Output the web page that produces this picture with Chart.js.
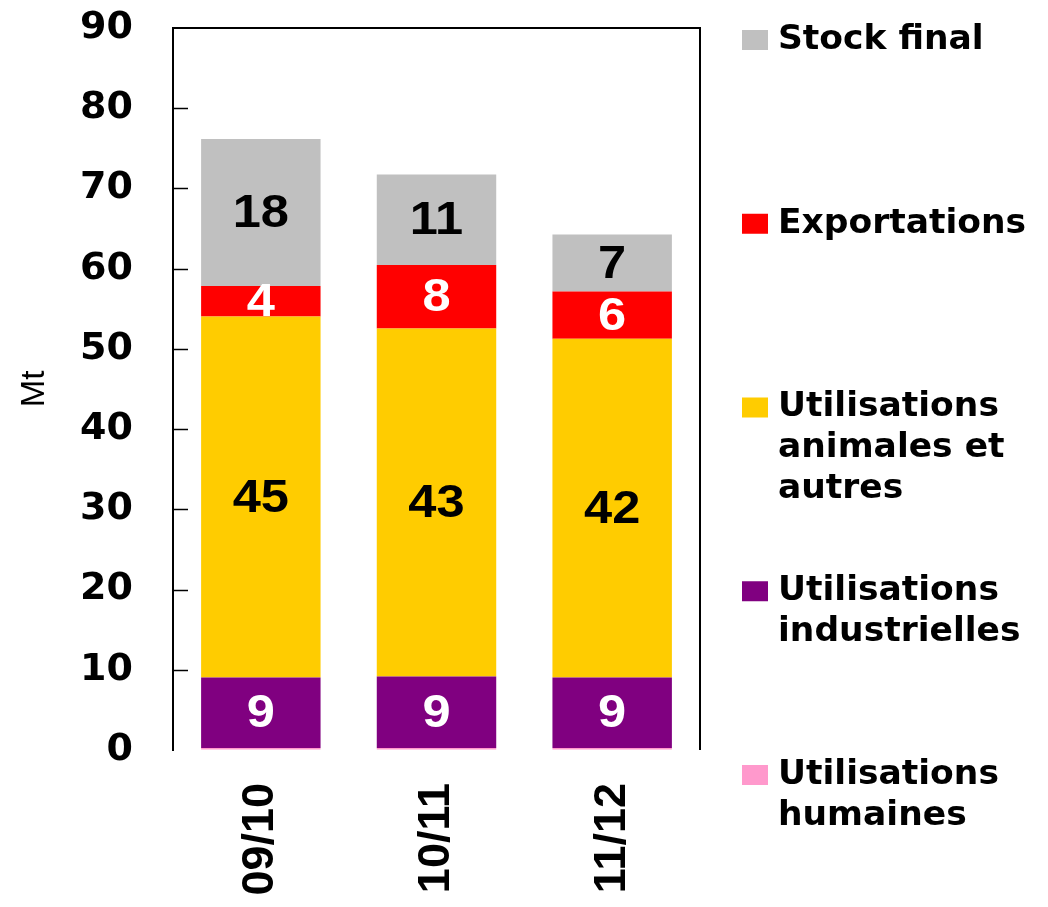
<!DOCTYPE html>
<html>
<head>
<meta charset="utf-8">
<script src="https://cdn.jsdelivr.net/npm/chart.js@4"></script>
<style>
  html, body { margin: 0; padding: 0; background: #fff; }
</style>
</head>
<body>
<canvas id="chart" width="1048" height="907"></canvas>
<script>
// campagnes
const campaigns = ['09/10', '10/11', '11/12'];

// Mt
const humaines = [0.25, 0.25, 0.25];
const industrielles = [8.8, 8.9, 8.8];
const animales = [45.0, 43.4, 42.2];
const exportations = [3.8, 7.9, 5.9];
const stockFinal = [18.3, 11.3, 7.1];

const yMin = 0;
const yMax = 90;
const yStep = 10;

const series = [
    { label: ['Utilisations', 'humaines'], data: humaines, color: '#FF99CC', text: null },
    { label: ['Utilisations', 'industrielles'], data: industrielles, color: '#800080', text: '#fff' },
    { label: ['Utilisations', 'animales et', 'autres'], data: animales, color: '#FFCC00', text: '#000' },
    { label: ['Exportations'], data: exportations, color: '#FF0000', text: '#fff' },
    { label: ['Stock final'], data: stockFinal, color: '#C0C0C0', text: '#000' }
];

const WIDE = "'DejaVu Sans', sans-serif";
const ARIAL = "'Liberation Sans', Arial, sans-serif";

// values in the middle of each segment (slightly widened like the original)
const segmentLabels = {
    id: 'segmentLabels',
    afterDatasetsDraw(chart) {
        const ctx = chart.ctx;
        chart.data.datasets.forEach((ds, i) => {
            if (!ds.textColor) return;
            chart.getDatasetMeta(i).data.forEach((bar, j) => {
                const p = bar.getProps(['x', 'y', 'base'], true);
                ctx.save();
                ctx.translate(p.x, (p.y + p.base) / 2 + 2);
                ctx.scale(1.1, 1);
                ctx.font = 'bold 46px ' + ARIAL;
                ctx.textAlign = 'center';
                ctx.textBaseline = 'middle';
                ctx.fillStyle = ds.textColor;
                ctx.fillText(Math.round(ds.data[j]), 0, 0);
                ctx.restore();
            });
        });
    }
};

// frame on top/right, tick marks pointing inwards
const frame = {
    id: 'frame',
    afterDraw(chart) {
        const ctx = chart.ctx;
        const a = chart.chartArea;
        const y = chart.scales.y;
        ctx.save();
        ctx.strokeStyle = '#000';
        ctx.lineWidth = 2;
        ctx.beginPath();
        ctx.moveTo(a.left, a.top);
        ctx.lineTo(a.right, a.top);
        ctx.lineTo(a.right, a.bottom);
        ctx.stroke();
        ctx.lineWidth = 1.5;
        for (let v = yMin + yStep; v < yMax; v += yStep) {
            const py = Math.round(y.getPixelForValue(v)) + 0.5;
            ctx.beginPath();
            ctx.moveTo(a.left, py);
            ctx.lineTo(a.left + 15, py);
            ctx.stroke();
        }
        ctx.restore();
    }
};

// legend on the right, top series first
const sideLegend = {
    id: 'sideLegend',
    afterDraw(chart) {
        const ctx = chart.ctx;
        const a = chart.chartArea;
        const items = chart.data.datasets.slice().reverse();
        ctx.save();
        ctx.font = 'bold 34.5px ' + WIDE;
        ctx.textBaseline = 'middle';
        ctx.textAlign = 'left';
        items.forEach((ds, i) => {
            const cy = 40 + i * 183.75;
            ctx.fillStyle = ds.backgroundColor;
            ctx.fillRect(a.right + 42, cy - 10, 26, 20);
            ctx.fillStyle = '#000';
            ds.legendLines.forEach((line, k) => {
                ctx.fillText(line, a.right + 78, cy + k * 41);
            });
        });
        ctx.restore();
    }
};

new Chart(document.getElementById('chart'), {
    type: 'bar',
    data: {
        labels: campaigns,
        datasets: series.map(s => ({
            label: s.label.join(' '),
            legendLines: s.label,
            data: s.data,
            backgroundColor: s.color,
            textColor: s.text,
            borderWidth: 0,
            barPercentage: 0.68,
            categoryPercentage: 1
        }))
    },
    options: {
        responsive: false,
        animation: false,
        layout: { padding: { top: 28, right: 348, bottom: 0, left: 0 } },
        plugins: {
            legend: { display: false },
            tooltip: { enabled: false }
        },
        scales: {
            x: {
                stacked: true,
                grid: { display: false, drawTicks: false },
                border: { display: false },
                afterFit: s => { s.height = 157; },
                ticks: {
                    autoSkip: false,
                    minRotation: 90,
                    maxRotation: 90,
                    padding: 33,
                    color: '#000',
                    font: { family: ARIAL, size: 45, weight: 'bold' }
                }
            },
            y: {
                stacked: true,
                min: yMin,
                max: yMax,
                afterFit: s => {
                    s.width = 173;
                    s.paddingTop = 0;
                    s.paddingBottom = 0;
                },
                grid: { drawOnChartArea: false, drawTicks: false },
                border: { display: true, color: '#000', width: 2 },
                ticks: {
                    stepSize: yStep,
                    padding: 40,
                    color: '#000',
                    font: { family: WIDE, size: 38, weight: 'bold' }
                },
                title: {
                    display: true,
                    text: 'Mt',
                    color: '#000',
                    padding: { top: 15, bottom: 0 },
                    font: { family: ARIAL, size: 33, weight: 'normal' }
                }
            }
        }
    },
    plugins: [segmentLabels, frame, sideLegend]
});
</script>
</body>
</html>
